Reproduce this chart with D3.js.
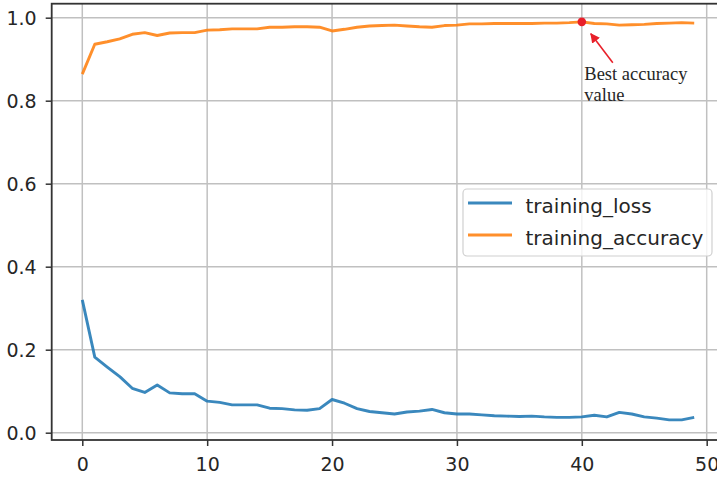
<!DOCTYPE html>
<html>
<head>
<meta charset="utf-8">
<script src="https://cdn.jsdelivr.net/npm/d3@7"></script>
<style>
  body { margin: 0; background: #fff; }
  text { font-family: "DejaVu Sans", sans-serif; fill: #262626; }
</style>
</head>
<body>
<script>
var width = 717;
var height = 477;

// epochs 0..49
var epochs = d3.range(50);

var trainingLoss = [
  0.320, 0.182, 0.158, 0.135, 0.107, 0.097, 0.115, 0.096, 0.094, 0.094,
  0.076, 0.073, 0.067, 0.067, 0.067, 0.059, 0.058, 0.055, 0.054, 0.058,
  0.080, 0.071, 0.058, 0.051, 0.048, 0.045, 0.050, 0.052, 0.056, 0.048,
  0.045, 0.045, 0.043, 0.041, 0.040, 0.039, 0.040, 0.038, 0.037, 0.037,
  0.038, 0.042, 0.038, 0.049, 0.045, 0.038, 0.035, 0.031, 0.031, 0.037
];

var trainingAccuracy = [
  0.864, 0.936, 0.942, 0.949, 0.960, 0.964, 0.957, 0.963, 0.964, 0.964,
  0.970, 0.971, 0.973, 0.973, 0.973, 0.977, 0.977, 0.978, 0.978, 0.977,
  0.968, 0.972, 0.977, 0.980, 0.981, 0.982, 0.980, 0.978, 0.977, 0.981,
  0.982, 0.985, 0.985, 0.986, 0.986, 0.986, 0.986, 0.987, 0.987, 0.988,
  0.990, 0.986, 0.985, 0.982, 0.983, 0.984, 0.986, 0.987, 0.988, 0.987
];

var xTicks = [0, 10, 20, 30, 40, 50];
var yTicks = [0.0, 0.2, 0.4, 0.6, 0.8, 1.0];

var seriesNames = ["training_loss", "training_accuracy"];
var seriesColors = ["#1f77b4", "#ff7f0e"];

var plot = { left: 51.7, right: 724.8, top: 3.7, bottom: 440 };

var xScale = d3.scaleLinear()
  .domain([-2.45, 51.45])
  .range([plot.left, plot.right]);

var yScale = d3.scaleLinear()
  .domain([-0.0176, 1.0337])
  .range([plot.bottom, plot.top]);

var svg = d3.select("body")
  .append("svg")
  .attr("width", width)
  .attr("height", height);

svg.append("rect")
  .attr("width", width)
  .attr("height", height)
  .attr("fill", "#fff");

// grid
svg.append("g")
  .selectAll("line")
  .data(xTicks)
  .enter()
  .append("line")
  .attr("x1", function(d) { return xScale(d); })
  .attr("x2", function(d) { return xScale(d); })
  .attr("y1", plot.top)
  .attr("y2", plot.bottom)
  .attr("stroke", "#c0c0c0")
  .attr("stroke-width", 1.5);

svg.append("g")
  .selectAll("line")
  .data(yTicks)
  .enter()
  .append("line")
  .attr("x1", plot.left)
  .attr("x2", plot.right)
  .attr("y1", function(d) { return yScale(d); })
  .attr("y2", function(d) { return yScale(d); })
  .attr("stroke", "#c0c0c0")
  .attr("stroke-width", 1.5);

// axes
var xAxis = d3.axisBottom(xScale)
  .tickValues(xTicks)
  .tickSize(6)
  .tickPadding(12)
  .tickFormat(d3.format("d"));

var yAxis = d3.axisLeft(yScale)
  .tickValues(yTicks)
  .tickSize(6)
  .tickPadding(9)
  .tickFormat(d3.format(".1f"));

var gx = svg.append("g")
  .attr("transform", "translate(0," + plot.bottom + ")")
  .call(xAxis);

var gy = svg.append("g")
  .attr("transform", "translate(" + plot.left + ",0)")
  .call(yAxis);

[gx, gy].forEach(function(g) {
  g.select(".domain").remove();
  g.selectAll(".tick line").attr("stroke", "#333").attr("stroke-width", 1.5);
  g.selectAll(".tick text")
    .attr("fill", "#262626")
    .style("font-family", "DejaVu Sans")
    .style("font-size", "19px");
});
gx.selectAll(".tick text").attr("dy", "0.71em");
gy.selectAll(".tick text").attr("dy", "0.36em");

// spines
svg.append("rect")
  .attr("x", plot.left)
  .attr("y", plot.top)
  .attr("width", plot.right - plot.left)
  .attr("height", plot.bottom - plot.top)
  .attr("fill", "none")
  .attr("stroke", "#333")
  .attr("stroke-width", 1.8);

// lines
var line = d3.line()
  .x(function(d, i) { return xScale(epochs[i]); })
  .y(function(d) { return yScale(d); });

[trainingLoss, trainingAccuracy].forEach(function(values, k) {
  svg.append("path")
    .datum(values)
    .attr("d", line)
    .attr("fill", "none")
    .attr("stroke", seriesColors[k])
    .attr("stroke-width", 2.9)
    .attr("stroke-linejoin", "round")
    .attr("stroke-opacity", 0.88);
});

// legend
var legend = svg.append("g");

legend.append("rect")
  .attr("x", 463)
  .attr("y", 189)
  .attr("width", 249)
  .attr("height", 67)
  .attr("rx", 4)
  .attr("fill", "#fff")
  .attr("fill-opacity", 0.8)
  .attr("stroke", "#d0d0d0")
  .attr("stroke-width", 1.2);

seriesNames.forEach(function(name, k) {
  var y = 203 + k * 32;
  legend.append("line")
    .attr("x1", 468)
    .attr("x2", 512)
    .attr("y1", y)
    .attr("y2", y)
    .attr("stroke", seriesColors[k])
    .attr("stroke-width", 2.9)
    .attr("stroke-opacity", 0.88);
  legend.append("text")
    .attr("x", 525.5)
    .attr("y", y + 10)
    .style("font-size", "20px")
    .text(name);
});

// best accuracy annotation
var best = d3.maxIndex(trainingAccuracy);
var bx = xScale(epochs[best]);
var by = yScale(trainingAccuracy[best]);

svg.append("defs")
  .append("marker")
  .attr("id", "arrow")
  .attr("viewBox", "0 0 10 10")
  .attr("refX", 9)
  .attr("refY", 5)
  .attr("markerWidth", 6)
  .attr("markerHeight", 6)
  .attr("orient", "auto")
  .append("path")
  .attr("d", "M0,0L10,5L0,10z")
  .attr("fill", "#e8202a");

svg.append("line")
  .attr("x1", bx + 31)
  .attr("y1", by + 41)
  .attr("x2", bx + 9)
  .attr("y2", by + 12)
  .attr("stroke", "#e8202a")
  .attr("stroke-width", 1.6)
  .attr("marker-end", "url(#arrow)");

svg.append("circle")
  .attr("cx", bx)
  .attr("cy", by)
  .attr("r", 4.3)
  .attr("fill", "#e8202a");

var note = svg.append("text")
  .attr("x", bx + 2.5)
  .attr("y", by + 58)
  .style("font-family", "Liberation Serif, Times New Roman, serif")
  .style("font-size", "18.5px")
  .attr("fill", "#111");
note.append("tspan").attr("x", bx + 2.5).text("Best accuracy");
note.append("tspan").attr("x", bx + 2.5).attr("dy", 21).text("value");
</script>
</body>
</html>
